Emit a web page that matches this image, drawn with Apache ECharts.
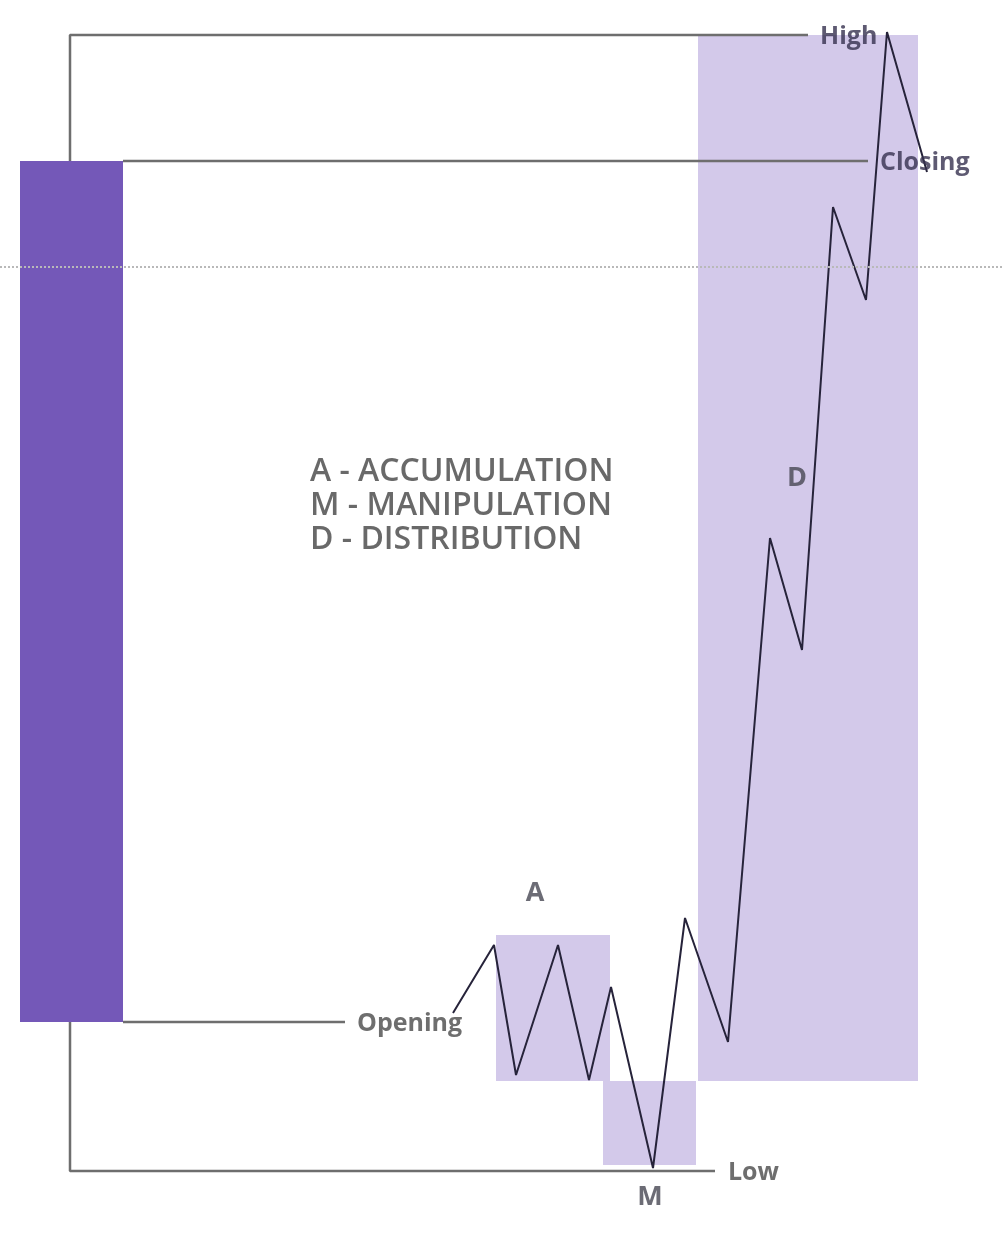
<!DOCTYPE html>
<html>
<head>
<meta charset="utf-8">
<script src="https://cdn.jsdelivr.net/npm/echarts@6/dist/echarts.min.js"></script>
<style>
html,body{margin:0;padding:0;background:#fff;}
#chart{width:1003px;height:1239px;}
</style>
</head>
<body>
<div id="chart"></div>
<script>
// ---- data (time units on x, price units on y) ----
const levelNames = ['High', 'Closing', 'Opening', 'Low'];
const levelPrices = [120.4, 107.8, 21.7, 6.8];
const dottedLevel = 97.2;

// price path (zig-zag) through the session
const pathTime  = [45.3, 49.4, 51.6, 55.8, 58.9, 61.1, 65.3, 68.5, 72.8, 77.0, 80.2, 83.3, 86.6, 88.7, 92.7];
const pathPrice = [22.6, 29.4, 16.4, 29.4, 15.9, 25.2, 7.1, 32.1, 19.7, 70.1, 58.9, 103.2, 93.9, 120.7, 106.7];

// phase zones: [startTime, endTime, lowPrice, highPrice]
const phaseNames = ['A', 'M', 'D'];
const phaseStart = [49.6, 60.3, 69.8];
const phaseEnd   = [61.0, 69.6, 91.8];
const phaseLow   = [15.8, 7.4, 15.8];
const phaseHigh  = [30.4, 15.8, 120.4];

// candle
const candleTime = [2.0, 12.3];   // body start / end
const wickTime = 7.0;

const legendLines = ['A - ACCUMULATION', 'M - MANIPULATION', 'D - DISTRIBUTION'];

// ---- build ----
const [HIGH, CLOSE, OPEN, LOW] = levelPrices;

const rectSeries = (data, color) => ({
  type: 'custom',
  silent: true,
  renderItem: (params, api) => {
    const p0 = api.coord([api.value(0), api.value(2)]);
    const p1 = api.coord([api.value(1), api.value(3)]);
    return {
      type: 'rect',
      shape: {
        x: Math.min(p0[0], p1[0]), y: Math.min(p0[1], p1[1]),
        width: Math.abs(p1[0] - p0[0]), height: Math.abs(p1[1] - p0[1])
      },
      style: { fill: color }
    };
  },
  data: data,
  z: 1
});

const guide = (pts) => ({
  type: 'line', data: pts, symbol: 'none', silent: true, z: 3,
  lineStyle: { color: '#6e6e6e', width: 2.5 }
});

const phaseRects = phaseNames.map((n, i) => [phaseStart[i], phaseEnd[i], phaseLow[i], phaseHigh[i]]);

const levelLabelTime = [82.0, 88.0, 35.7, 72.8];
const levelLabelColor = ['#36314f', '#36314f', '#4a4a4a', '#4a4a4a'];

const chart = echarts.init(document.getElementById('chart'), null, { renderer: 'canvas' });
chart.setOption({
  animation: false,
  backgroundColor: '#ffffff',
  grid: { left: 0, right: 0, top: 0, bottom: 0 },
  xAxis: { type: 'value', min: 0, max: 100.3, show: false },
  yAxis: { type: 'value', min: 0, max: 123.9, show: false },
  series: [
    // dotted reference line
    {
      type: 'line', data: [], silent: true,
      markLine: {
        silent: true, symbol: 'none', label: { show: false },
        lineStyle: { type: 'dotted', color: '#b9b9b9', width: 2 },
        data: [{ yAxis: dottedLevel }]
      }
    },
    rectSeries([[candleTime[0], candleTime[1], OPEN, CLOSE]], '#7458b8'),
    rectSeries(phaseRects, '#d3c9ea'),
    guide([[wickTime, CLOSE], [wickTime, HIGH], [80.8, HIGH]]),
    guide([[candleTime[1], CLOSE], [86.8, CLOSE]]),
    guide([[candleTime[1], OPEN], [34.5, OPEN]]),
    guide([[wickTime, OPEN], [wickTime, LOW], [71.5, LOW]]),
    {
      type: 'line', symbol: 'none', silent: true, z: 4,
      lineStyle: { color: '#26233a', width: 2 },
      data: pathTime.map((t, i) => [t, pathPrice[i]])
    },
    // level labels
    {
      type: 'scatter', symbolSize: 0, silent: true, z: 5,
      data: levelNames.map((n, i) => ({
        value: [levelLabelTime[i], levelPrices[i] - 0.2],
        label: { color: levelLabelColor[i] }
      })),
      label: {
        show: true, position: 'right', distance: 0,
        formatter: (p) => levelNames[p.dataIndex],
        fontFamily: 'Open Sans', fontWeight: 'bold', fontSize: 25
      }
    },
    // phase letters
    {
      type: 'scatter', symbolSize: 0, silent: true, z: 5,
      data: [[53.5, 34.6], [65.0, 4.2], [79.7, 76.1]],
      label: {
        show: true, position: 'inside',
        formatter: (p) => phaseNames[p.dataIndex],
        fontFamily: 'Open Sans', fontWeight: 'bold', fontSize: 27, color: '#474752'
      }
    },
    // legend text block
    {
      type: 'scatter', symbolSize: 0, silent: true, z: 5,
      data: [[31.0, 76.7], [31.0, 73.3], [31.0, 69.9]],
      label: {
        show: true, position: 'right', distance: 0,
        formatter: (p) => legendLines[p.dataIndex],
        fontFamily: 'Open Sans', fontWeight: 600, fontSize: 32, color: '#434343'
      }
    }
  ]
});
</script>
</body>
</html>
